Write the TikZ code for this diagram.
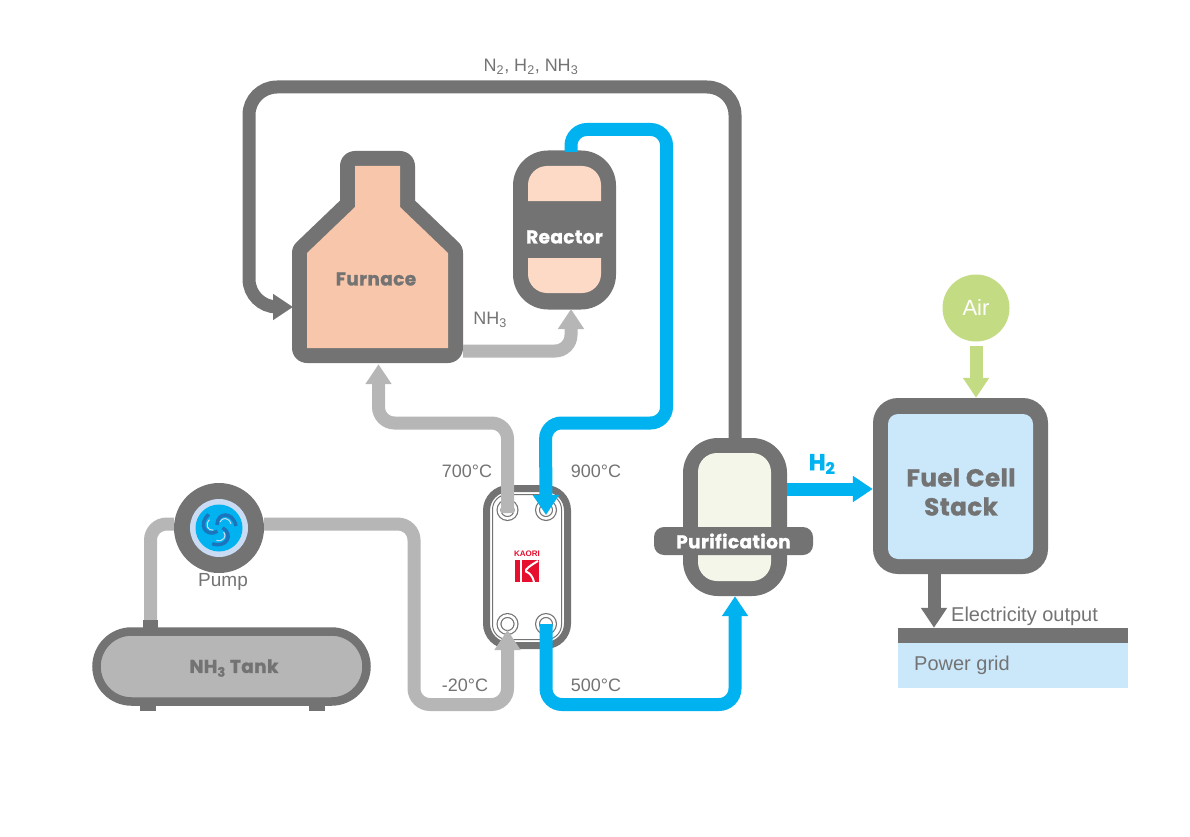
\documentclass[tikz,border=0pt]{standalone}
\usepackage{fontspec}
\setmainfont{Liberation Sans}
\newfontfamily\heavyfont[LetterSpace=2,BoldFeatures={FakeBold=1.2}]{Poppins}
\usepackage{tikz}
\usetikzlibrary{arrows.meta,shapes}
\definecolor{wall}{HTML}{737373}
\definecolor{ammonia}{HTML}{B5B6B5}
\definecolor{hydrogen}{HTML}{00B2EF}
\definecolor{peach}{HTML}{F8C6AA}
\definecolor{palepeach}{HTML}{FCDAC6}
\definecolor{palegreen}{HTML}{F3F6E8}
\definecolor{airgreen}{HTML}{C3DC83}
\definecolor{paleblue}{HTML}{CBE8FB}
\definecolor{ringblue}{HTML}{C9DCF3}
\definecolor{swirlblue}{HTML}{1C75BC}
\definecolor{kaorired}{HTML}{E60F2D}
\tikzstyle{vessel} = [rectangle, fill=wall, text=white, rounded corners=35pt, inner sep=0pt,
    font=\heavyfont\bfseries\fontsize{18.5}{20}\selectfont]
\tikzstyle{tag} = [text=wall, inner sep=0pt, font=\fontsize{18}{20}\selectfont]
\tikzstyle{widetag} = [text=wall, inner sep=0pt, anchor=west, font=\fontsize{20}{22}\selectfont]
\tikzstyle{heavytag} = [text=wall, inner sep=0pt, align=center,
    font=\heavyfont\bfseries\fontsize{18.5}{20}\selectfont]
\tikzstyle{hole} = [circle, draw=wall, line width=1.2pt, double=white, double distance=2.6pt,
    fill=white, minimum size=17pt, inner sep=0pt]
\tikzstyle{stub} = [rectangle, fill=wall, inner sep=0pt]
\tikzstyle{pipe} = [draw, line width=13pt, rounded corners=16pt,
    -{Triangle[length=20pt,width=25pt]}]

\begin{document}
\begin{tikzpicture}[x=1pt, y=-1pt]
    \useasboundingbox (0,0) rectangle (1190,837);

    % Place nodes
    \draw [wall, line width=30pt, line join=round]
      (307,348) -- (307,253) -- (355,207) -- (355,166) -- (400,166) -- (400,207) -- (448,253) -- (448,348) -- cycle;
    \fill [peach]
      (307,348) -- (307,253) -- (355,207) -- (355,166) -- (400,166) -- (400,207) -- (448,253) -- (448,348) -- cycle;
    \node [minimum width=171pt, minimum height=213pt, inner sep=0pt] (furnace) at (377.5,257.5) {};
    \node [heavytag] (furnaceLabel) at (376,279) {Furnace};
    \coordinate (furnaceIn) at (293,307);
    \coordinate (furnaceOut) at (463,351);

    \node [vessel, minimum width=103pt, minimum height=159pt] (reactor) at (564.5,230) {};
    \fill [palepeach] (528,201) [rounded corners=19pt] -- (528,166) -- (601,166) [sharp corners] -- (601,201) -- cycle;
    \fill [palepeach] (528,258) [rounded corners=19pt] -- (528,293) -- (601,293) [sharp corners] -- (601,258) -- cycle;
    \node [heavytag, text=white] (reactorLabel) at (564.5,237) {Reactor};
    \coordinate (reactorTop) at (571,152);
    \coordinate (reactorIn) at (571,309);

    \node [vessel, minimum width=104pt, minimum height=158pt] (purification) at (735,517) {};
    \fill [palegreen] (698,527) [rounded corners=19pt] -- (698,453) -- (771,453) [sharp corners] -- (771,527) -- cycle;
    \fill [palegreen] (698,555) [rounded corners=19pt] -- (698,581) -- (771,581) [sharp corners] -- (771,555) -- cycle;
    \node [vessel, rounded corners=10pt, minimum width=159pt, minimum height=28pt] (purificationBand) at (733.5,541) {Purification};

    % heat exchanger plate
    \node [rectangle, draw=wall, fill=white, line width=7pt, rounded corners=22pt,
      minimum width=81pt, minimum height=157pt] (plate) at (527,567) {};
    \node [rectangle, draw=wall, line width=1pt, rounded corners=15pt,
      minimum width=69pt, minimum height=145pt] (plateInner) at (527,567) {};
    \node [hole] (holeTL) at (507.5,510) {};
    \node [hole] (holeTR) at (546,510) {};
    \node [hole] (holeBL) at (507.5,624) {};
    \node [hole] (holeBR) at (546,624) {};
    \node [text=kaorired, inner sep=0pt, font=\bfseries\fontsize{8}{9}\selectfont] (kaoriLabel) at (527,554) {KAORI};
    \node [rectangle, fill=kaorired, minimum width=24pt, minimum height=22pt, inner sep=0pt] (kaori) at (527,571) {};
    \draw [white, line width=2pt] (521,560) -- (521,582);
    \draw [white, line width=2pt] (538,561) .. controls (531,565) and (524,570) .. (526,571.5) .. controls (530,573) and (533,577) .. (534,582);

    % pump and tank
    \node [circle, fill=wall, minimum size=90pt, inner sep=0pt] (pump) at (219,528) {};
    \node [circle, fill=ringblue, minimum size=58pt, inner sep=0pt] (pumpRing) at (219,528) {};
    \node [circle, fill=hydrogen, minimum size=47pt, inner sep=0pt] (pumpDisc) at (219,528) {};
    \foreach \angle in {0,120,240} {
      \draw [swirlblue, line width=3.5pt, rotate around={\angle:(219,528)}]
        (217,525) .. controls (217,512) and (233,511) .. (236,526);
      \draw [ringblue, line width=1pt, rotate around={\angle:(219,528)}]
        (220,522) .. controls (222,517) and (229,517) .. (231,524);
    }
    \node [tag, font=\fontsize{19}{21}\selectfont] (pumpLabel) at (223,582) {Pump};

    \node [stub, minimum width=15pt, minimum height=8pt] (tankPort) at (150.5,624) {};
    \node [stub, minimum width=16pt, minimum height=5pt] (tankFootL) at (148,708) {};
    \node [stub, minimum width=16pt, minimum height=5pt] (tankFootR) at (317,708) {};
    \node [rectangle, draw=wall, fill=ammonia, line width=8.5pt, rounded corners=35pt,
      minimum width=270pt, minimum height=70pt, inner sep=0pt] (tank) at (231.5,666.5) {};
    \node [heavytag] (tankLabel) at (234,668) {NH\textsubscript{3} Tank};

    % fuel cell side
    \node [rectangle, fill=wall, rounded corners=25pt, minimum width=175pt, minimum height=176pt, inner sep=0pt] (stack) at (960.5,486) {};
    \node [rectangle, fill=paleblue, rounded corners=10pt, minimum width=145pt, minimum height=145pt, inner sep=0pt] (stackInner) at (960.5,486.5) {};
    \node [heavytag, font=\heavyfont\bfseries\fontsize{24.5}{29}\selectfont] (stackLabel) at (961,492) {Fuel Cell\\Stack};
    \node [circle, fill=airgreen, minimum size=67pt, inner sep=0pt, text=white, font=\fontsize{22}{24}\selectfont] (air) at (976,308) {Air};
    \coordinate (airOut) at (976,346);
    \node [rectangle, fill=paleblue, minimum width=230pt, minimum height=60pt, inner sep=0pt] (grid) at (1013,658) {};
    \node [stub, minimum width=230pt, minimum height=15pt] (gridBar) at (1013,635.5) {};
    \node [widetag] (gridLabel) at (914,665) {Power grid};
    \node [widetag] (outputLabel) at (951,616) {Electricity output};

    % temperatures and gases
    \node [tag] (recircLabel) at (531,67) {N\textsubscript{2}, H\textsubscript{2}, NH\textsubscript{3}};
    \node [tag] (nhLabel) at (490,320) {NH\textsubscript{3}};
    \node [tag] (tempA) at (467,471) {700°C};
    \node [tag] (tempB) at (596,471) {900°C};
    \node [tag] (tempC) at (465,685) {-20°C};
    \node [tag] (tempD) at (596,685) {500°C};
    \node [heavytag, text=hydrogen, font=\heavyfont\bfseries\fontsize{23}{24}\selectfont] (hydrogenLabel) at (822,464) {H\textsubscript{2}};

    % Draw edges
    \path [pipe, wall, rounded corners=28pt] (purification.north) |- (249,87) |- (furnaceIn);
    \path [pipe, ammonia] (furnaceOut) -| (reactorIn);
    \path [pipe, ammonia] ([yshift=-3pt]holeTL.center) |- (378.5,423) -- (furnace.south -| 378.5,0);
    \path [pipe, hydrogen] (reactorTop) |- (666.5,129.5) |- (545.5,423) -- ([yshift=-5pt]holeTR.center);
    \path [pipe, hydrogen] (holeBR.center) |- (735,704.5) -- (purification.south);
    \path [pipe, ammonia, -] (pump.175) -| (tankPort.north);
    \path [pipe, ammonia] (pump.5) -| (414,704.5) -| ([yshift=-6pt]holeBL.center);
    \path [pipe, hydrogen, rounded corners=0pt] (purification.east |- 0,489) -- (stack.west |- 0,489);
    \path [pipe, airgreen, rounded corners=0pt] (airOut) -- (stack.north -| airOut);
    \path [pipe, wall, rounded corners=0pt] (934,574) -- (gridBar.north -| 934,0);

\end{tikzpicture}
\end{document}
